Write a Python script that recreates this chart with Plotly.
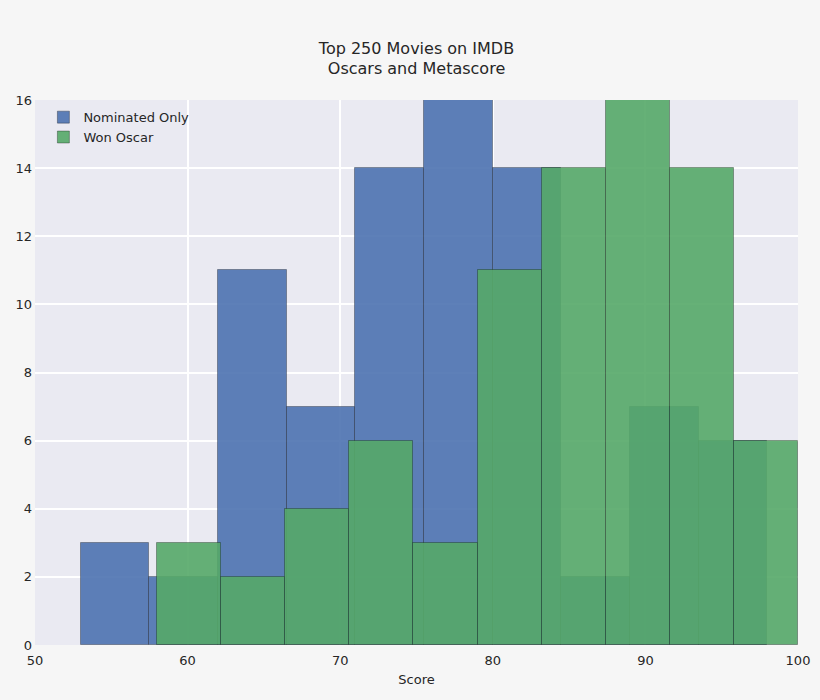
import plotly.graph_objects as go

# Histogram data (bin left edges, bin width, counts)
nominated_bin_edges = [53.0, 57.5, 62.0, 66.5, 71.0, 75.5, 80.0, 84.5, 89.0, 93.5]
nominated_bin_width = 4.5
nominated_counts = [3, 2, 11, 7, 14, 16, 14, 2, 7, 6]

won_bin_edges = [58.0, 62.2, 66.4, 70.6, 74.8, 79.0, 83.2, 87.4, 91.6, 95.8]
won_bin_width = 4.2
won_counts = [3, 2, 4, 6, 3, 11, 14, 16, 14, 6]

x_ticks = [50, 60, 70, 80, 90, 100]
y_ticks = [0, 2, 4, 6, 8, 10, 12, 14, 16]

FONT = "DejaVu Sans"
TEXT = "#262626"
PAPER = "#f6f6f6"

fig = go.Figure()
fig.add_trace(go.Bar(
    x=nominated_bin_edges, y=nominated_counts,
    width=nominated_bin_width, offset=0,
    name="Nominated Only",
    marker=dict(color="rgba(76,114,176,0.9)",
                line=dict(color="rgba(0,0,0,0.3)", width=1)),
))
fig.add_trace(go.Bar(
    x=won_bin_edges, y=won_counts,
    width=won_bin_width, offset=0,
    name="Won Oscar",
    marker=dict(color="rgba(85,168,104,0.9)",
                line=dict(color="rgba(0,0,0,0.3)", width=1)),
))

fig.update_layout(
    width=820, height=700,
    barmode="overlay",
    paper_bgcolor=PAPER,
    plot_bgcolor="#eaeaf2",
    margin=dict(l=35, r=22, t=100, b=55, autoexpand=False),
    font=dict(family=FONT, size=13, color=TEXT),
    title=dict(
        text="Top 250 Movies on IMDB<br>Oscars and Metascore",
        x=(35 + 798) / 2 / 820, xanchor="center",
        y=1 - 53.5 / 700, yanchor="top", yref="container",
        font=dict(family=FONT, size=16, color=TEXT),
    ),
    legend=dict(
        x=0.011, y=0.996, xanchor="left", yanchor="top",
        bgcolor="rgba(0,0,0,0)",
        font=dict(family=FONT, size=13, color=TEXT),
        traceorder="normal",
    ),
    bargap=0,
)
fig.update_xaxes(
    range=[50, 100], tickvals=x_ticks,
    showgrid=True, gridcolor="white", gridwidth=1.5,
    zeroline=False, showline=False, ticks="",
    ticklabelstandoff=6,
    title=dict(text="Score", font=dict(family=FONT, size=13, color=TEXT), standoff=7),
    tickfont=dict(family=FONT, size=13, color=TEXT),
)
fig.update_yaxes(
    range=[0, 16], tickvals=y_ticks,
    showgrid=True, gridcolor="white", gridwidth=1.5,
    zeroline=False, showline=False, ticks="",
    ticklabelstandoff=2,
    tickfont=dict(family=FONT, size=13, color=TEXT),
)

fig.write_html(
    "out.html",
    config={"displayModeBar": False},
    post_script="document.body.style.margin='0';document.body.style.background='%s';" % PAPER,
)
